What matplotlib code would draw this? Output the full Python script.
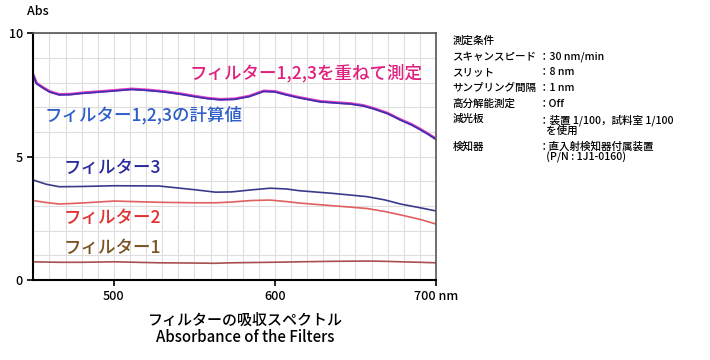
import matplotlib.pyplot as plt

plt.rcParams['font.family'] = ['Noto Sans CJK JP', 'DejaVu Sans']

# 波長 (nm)
wl = [450, 452, 456, 460, 466, 473, 480, 490, 500, 511, 521, 531, 541, 550, 558, 566, 575, 584, 593, 600,
      607, 615, 628, 640, 647, 655, 661, 670, 678, 685, 690, 695, 700]
# フィルター1,2,3を重ねて測定
measured = [8.3, 7.97, 7.8, 7.64, 7.52, 7.53, 7.58, 7.63, 7.68, 7.74, 7.7, 7.64, 7.55, 7.45, 7.37, 7.32, 7.34,
            7.45, 7.66, 7.64, 7.52, 7.4, 7.24, 7.18, 7.15, 7.07, 6.96, 6.76, 6.5, 6.3, 6.12, 5.93, 5.72]
# フィルター1,2,3の計算値
calc = [m - 0.02 for m in measured]

wl3 = [450, 458, 466, 480, 500, 528, 550, 563, 573, 585, 597, 607, 615, 636, 657, 668, 678, 690, 700]
filter3 = [4.05, 3.88, 3.78, 3.79, 3.82, 3.81, 3.66, 3.56, 3.57, 3.65, 3.72, 3.69, 3.62, 3.51, 3.38, 3.25,
           3.08, 2.93, 2.8]
filter2 = [3.22, 3.14, 3.08, 3.12, 3.2, 3.15, 3.13, 3.13, 3.16, 3.22, 3.24, 3.18, 3.12, 3.01, 2.9, 2.78,
           2.64, 2.46, 2.27]
filter1 = [0.74, 0.73, 0.72, 0.72, 0.74, 0.7, 0.69, 0.68, 0.7, 0.71, 0.72, 0.73, 0.74, 0.76, 0.77, 0.76,
           0.74, 0.72, 0.7]

conditions = [
    ('測定条件', ''),
    ('スキャンスピード', '：30 nm/min'),
    ('スリット', '：8 nm'),
    ('サンプリング間隔', '：1 nm'),
    ('高分解能測定', '：Off'),
    ('減光板', '：装置 1/100，試料室 1/100\n   を使用'),
    ('検知器', '：直入射検知器付属装置\n   (P/N : 1J1-0160)'),
]

fig = plt.figure(figsize=(7.1, 3.6), dpi=100)
ax = fig.add_axes([0.047, 0.222, 0.567, 0.686])

ax.plot(wl, measured, color='#e040c0', lw=2.0)
ax.plot(wl, calc, color='#3a2fb0', lw=1.2)
ax.plot(wl3, filter3, color='#3a3a8c', lw=1.2)
ax.plot(wl3, filter2, color='#e06060', lw=1.2)
ax.plot(wl3, filter1, color='#a85050', lw=1.2)

ax.set_xlim(450, 700)
ax.set_ylim(0, 10)
ax.set_xticks([500, 600, 700])
ax.set_xticklabels(['500', '600', '700 nm'])
ax.set_yticks([0, 5, 10])
ax.set_xticks(range(450, 701, 10), minor=True)
ax.set_yticks(range(0, 11), minor=True)
ax.grid(True, which='both', color='#dedede', lw=0.8)
ax.set_axisbelow(True)
ax.tick_params(axis='both', which='major', labelsize=9, length=4, width=1.2, direction='out')
ax.tick_params(axis='both', which='minor', length=0)
for lbl in ax.get_xticklabels() + ax.get_yticklabels():
    lbl.set_fontweight('medium')
for s in ['left', 'bottom']:
    ax.spines[s].set_linewidth(1.5)
for s in ['top', 'right']:
    ax.spines[s].set_color('#555555')
    ax.spines[s].set_linewidth(1.2)

# 曲線ラベル
lab = dict(fontsize=12.6, va='center', fontweight='medium')
ax.text(547, 8.38, 'フィルター1,2,3を重ねて測定', color='#e0207e', **lab)
ax.text(457, 6.68, 'フィルター1,2,3の計算値', color='#2e5ec8', **lab)
ax.text(469, 4.53, 'フィルター3', color='#2a2a9c', **lab)
ax.text(469, 2.51, 'フィルター2', color='#e03030', **lab)
ax.text(469, 1.3, 'フィルター1', color='#7a5222', **lab)

fig.text(0.038, 0.967, 'Abs', fontsize=9, va='center', fontweight='medium')
fig.text(0.345, 0.086, 'フィルターの吸収スペクトル\nAbsorbance of the Filters',
         fontsize=10.8, ha='center', va='center', linespacing=1.05, fontweight='medium')

# 測定条件
y = 0.9
for k, v in conditions:
    fig.text(0.637, y, k, fontsize=7.6, va='top', fontweight='medium')
    fig.text(0.759, y, v, fontsize=7.6, va='top', linespacing=1.0, fontweight='medium')
    y -= 0.0435 * (1 + v.count('\n') * 0.72)

plt.savefig('out.png', dpi=100)
